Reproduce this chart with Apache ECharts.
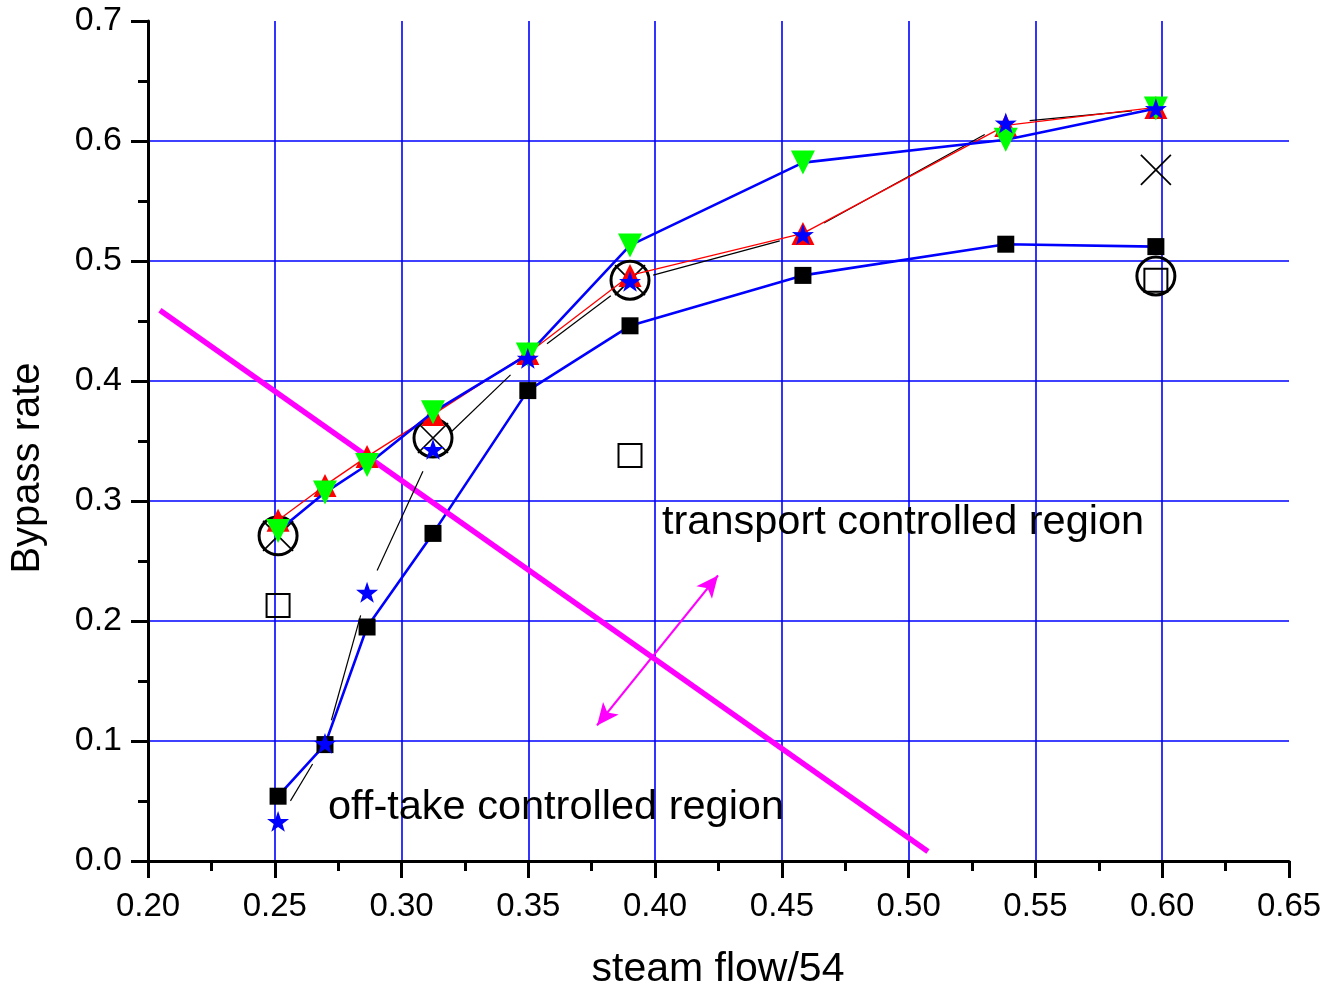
<!DOCTYPE html>
<html>
<head>
<meta charset="utf-8">
<title>Bypass rate vs steam flow</title>
<script src="https://cdn.jsdelivr.net/npm/echarts@6/dist/echarts.min.js"></script>
<style>
  html, body { margin: 0; padding: 0; background: #fff; }
  #chart { width: 1328px; height: 986px; }
</style>
</head>
<body>
<div id="chart"></div>
<script>
// Steam flow (normalised by 54) shared by the four measured curves
const steamFlow = [0.2513, 0.2698, 0.2864, 0.3124, 0.3498, 0.3901, 0.4583, 0.5383, 0.5975];

// Bypass rate of each curve
const squareRate  = [0.054, 0.097, 0.195, 0.273, 0.392, 0.446, 0.488, 0.514, 0.512];
const starRate    = [0.033, 0.098, 0.224, 0.343, 0.419, 0.483, 0.522, 0.615, 0.627];
const upTriRate   = [0.284, 0.313, 0.337, 0.372, 0.423, 0.488, 0.523, 0.613, 0.628];
const downTriRate = [0.275, 0.307, 0.330, 0.374, 0.422, 0.513, 0.582, 0.601, 0.627];

// Isolated points
const circleFlow = [0.2513, 0.3124, 0.3901, 0.5975];
const circleRate = [0.271, 0.3525, 0.484, 0.4875];
const crossFlow  = [0.2513, 0.3124, 0.3901, 0.5975];
const crossRate  = [0.271, 0.3525, 0.484, 0.576];
const openSquareFlow = [0.2513, 0.3901, 0.5975];
const openSquareRate = [0.213, 0.338, 0.484];

// Region boundary and the double-headed arrow across it
const boundaryLine = [[0.2047, 0.459], [0.5076, 0.008]];
const regionArrow  = [[0.3771, 0.113], [0.4248, 0.238]];

// Axis tick labels
const xTicks = ['0.20', '0.25', '0.30', '0.35', '0.40', '0.45', '0.50', '0.55', '0.60', '0.65'];
const yTicks = ['0.0', '0.1', '0.2', '0.3', '0.4', '0.5', '0.6', '0.7'];

const FONT = '"Liberation Sans", Arial, sans-serif';
const BLUE = '#0000ff';

const zip = (xs, ys) => xs.map((x, i) => [x, ys[i]]);

const STAR = 'path://M50,0L61.8,35.1L97.6,34.5L69.1,56.9L79.4,90.5L50,70L20.6,90.5L30.9,56.9L2.4,34.5L38.2,35.1Z';
const CROSS = 'path://M0,0L10,10M10,0L0,10';

const chart = echarts.init(document.getElementById('chart'), null, { renderer: 'canvas' });

const starPoints = zip(steamFlow, starRate);

// Thin black connector for the star curve, leaving a gap around every symbol
function gappedSegment(params, api) {
  const i = params.dataIndex;
  if (i >= starPoints.length - 1) return null;
  const p0 = api.coord(starPoints[i]);
  const p1 = api.coord(starPoints[i + 1]);
  const dx = p1[0] - p0[0], dy = p1[1] - p0[1];
  const len = Math.sqrt(dx * dx + dy * dy);
  const gap = 24;
  if (len <= 2 * gap) return null;
  const ux = dx / len, uy = dy / len;
  return {
    type: 'line',
    shape: {
      x1: p0[0] + ux * gap, y1: p0[1] + uy * gap,
      x2: p1[0] - ux * gap, y2: p1[1] - uy * gap
    },
    style: { stroke: '#000', lineWidth: 1.2 }
  };
}

function axisBase() {
  return {
    type: 'value',
    axisLine: { show: true, onZero: false, lineStyle: { color: '#000', width: 3 } },
    axisTick: { show: true, length: 17, lineStyle: { color: '#000', width: 3 } },
    minorTick: { show: true, splitNumber: 2, length: 10, lineStyle: { color: '#000', width: 3 } },
    splitLine: { show: true, showMinLine: false, showMaxLine: false, lineStyle: { color: BLUE, width: 1.6, opacity: 1 } }
  };
}

const option = {
  animation: false,
  backgroundColor: '#fff',
  grid: { left: 148, right: 39, top: 21, bottom: 125, containLabel: false },
  xAxis: Object.assign(axisBase(), {
    min: 0.2, max: 0.65, interval: 0.05,
    axisLabel: {
      color: '#000', fontSize: 33, fontFamily: FONT, margin: 29,
      formatter: (v) => xTicks[Math.round((v - 0.2) / 0.05)]
    }
  }),
  yAxis: Object.assign(axisBase(), {
    min: 0, max: 0.7, interval: 0.1,
    axisLabel: {
      color: '#000', fontSize: 34, fontFamily: FONT, margin: 26,
      formatter: (v) => yTicks[Math.round(v / 0.1)]
    }
  }),
  series: [
    {
      name: 'squares', type: 'line', z: 3,
      data: zip(steamFlow, squareRate),
      symbol: 'rect', symbolSize: 17,
      itemStyle: { color: '#000', opacity: 1 },
      lineStyle: { color: BLUE, width: 2.6 }
    },
    {
      name: 'boundary', type: 'line', z: 4,
      data: boundaryLine, symbol: 'none',
      lineStyle: { color: '#ff00ff', width: 5.5 },
      markLine: {
        silent: true, animation: false,
        symbol: ['arrow', 'arrow'], symbolSize: [15, 22],
        label: { show: false },
        lineStyle: { color: '#ff00ff', width: 2.2, type: 'solid', opacity: 1 },
        emphasis: { disabled: true },
        data: [[{ coord: regionArrow[0] }, { coord: regionArrow[1] }]]
      }
    },
    {
      name: 'circles', type: 'scatter', z: 5,
      data: zip(circleFlow, circleRate),
      symbol: 'circle', symbolSize: 38,
      itemStyle: { color: 'transparent', borderColor: '#000', borderWidth: 3, opacity: 1 }
    },
    {
      name: 'crosses', type: 'scatter', z: 5,
      data: zip(crossFlow, crossRate),
      symbol: CROSS, symbolSize: 30,
      itemStyle: { color: 'transparent', borderColor: '#000', borderWidth: 1.7, opacity: 1 }
    },
    {
      name: 'open squares', type: 'scatter', z: 5,
      data: zip(openSquareFlow, openSquareRate),
      symbol: 'rect', symbolSize: 23,
      itemStyle: { color: 'transparent', borderColor: '#000', borderWidth: 2, opacity: 1 }
    },
    {
      name: 'star connector', type: 'custom', z: 6,
      data: starPoints,
      renderItem: gappedSegment,
      silent: true
    },
    {
      name: 'up triangles', type: 'line', z: 7,
      data: zip(steamFlow, upTriRate),
      symbol: 'triangle', symbolSize: 23,
      itemStyle: { color: '#ff0000', opacity: 1 },
      lineStyle: { color: '#ff0000', width: 1.3 }
    },
    {
      name: 'down triangles', type: 'line', z: 8,
      data: zip(steamFlow, downTriRate),
      symbol: 'triangle', symbolRotate: 180, symbolSize: 24,
      itemStyle: { color: '#00ff00', opacity: 1 },
      lineStyle: { color: BLUE, width: 2.6 }
    },
    {
      name: 'stars', type: 'scatter', z: 9,
      data: starPoints,
      symbol: STAR, symbolSize: 22, symbolKeepAspect: true,
      itemStyle: { color: BLUE, opacity: 1 }
    }
  ],
  graphic: [
    {
      type: 'text', x: 28, y: 468, rotation: Math.PI / 2, z: 100,
      style: { text: 'Bypass rate', fill: '#000', font: '40px ' + FONT, textAlign: 'center', textVerticalAlign: 'middle' }
    },
    {
      type: 'text', x: 718, y: 970, z: 100,
      style: { text: 'steam flow/54', fill: '#000', font: '41px ' + FONT, textAlign: 'center', textVerticalAlign: 'middle' }
    },
    {
      type: 'text', x: 662, y: 523, z: 100,
      style: { text: 'transport controlled region', fill: '#000', font: '41.5px ' + FONT, textAlign: 'left', textVerticalAlign: 'middle' }
    },
    {
      type: 'text', x: 328, y: 808, z: 100,
      style: { text: 'off-take controlled region', fill: '#000', font: '41.5px ' + FONT, textAlign: 'left', textVerticalAlign: 'middle' }
    }
  ]
};

chart.setOption(option);
</script>
</body>
</html>
